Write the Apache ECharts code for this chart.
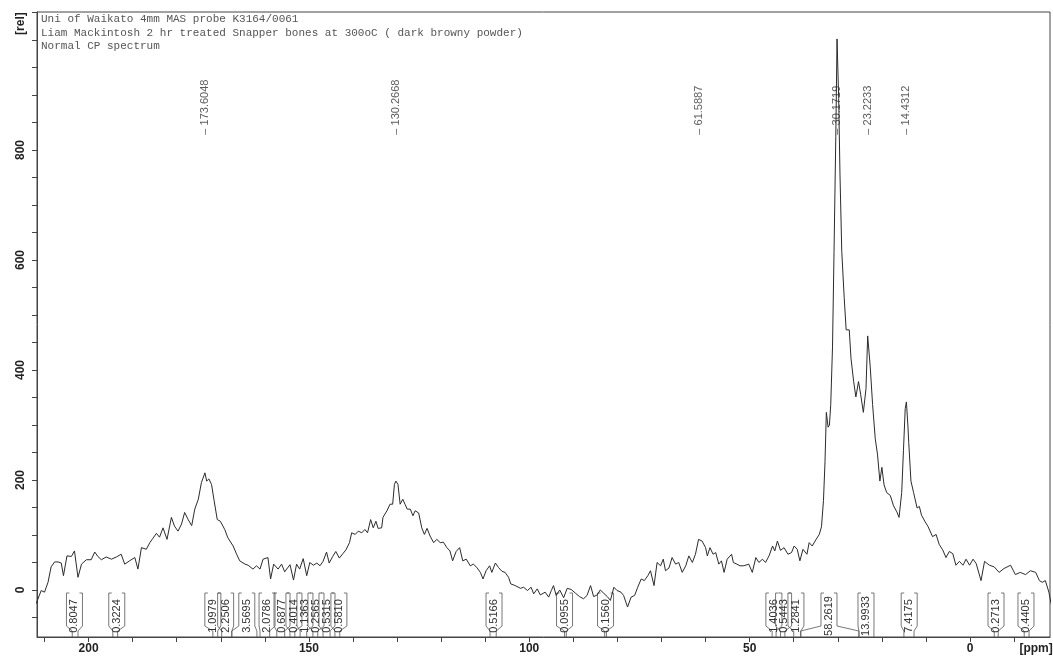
<!DOCTYPE html>
<html>
<head>
<meta charset="utf-8">
<script src="https://cdn.jsdelivr.net/npm/echarts@6/dist/echarts.min.js"></script>
<style>
  html, body { margin: 0; padding: 0; background: #fff; overflow: hidden; }
  #chart { width: 1053px; height: 659px; }
</style>
</head>
<body>
<div id="chart"></div>
<script>
// Acquisition notes printed in the upper-left corner
const titleLines = [
  'Uni of Waikato 4mm MAS probe K3164/0061',
  'Liam Mackintosh 2 hr treated Snapper bones at 300oC ( dark browny powder)',
  'Normal CP spectrum'
];

// Axis extents (ppm runs right-to-left, intensity in relative units)
const shiftRange = [-18.15, 211.7];
const intensityRange = [-85.5, 1051];
const shiftTicks = [-10, 0, 10, 20, 30, 40, 50, 60, 70, 80, 90, 100, 110, 120, 130, 140, 150, 160, 170, 180, 190, 200, 210];
const shiftTickLabels = [0, 50, 100, 150, 200];
const shiftUnitAt = -15;
const intensityTicks = [-50, 0, 50, 100, 150, 200, 250, 300, 350, 400, 450, 500, 550, 600, 650, 700, 750, 800, 850, 900, 950, 1000, 1050];
const intensityTickLabels = [0, 200, 400, 600, 800];
const intensityUnitAt = 1030;

// 13C CP-MAS spectrum: [chemical shift (ppm), intensity (rel)]
const spectrum = [
  [211.9, -25], [210.75, -1], [210.0, -4], [209.2, 14], [208.5, 42], [207.7, 51], [206.9, 51], [206.2, 49],
  [205.7, 26], [204.9, 62], [203.9, 61], [203.2, 71], [202.4, 23], [201.6, 47], [200.5, 55], [199.4, 55],
  [198.6, 69], [197.9, 61], [197.1, 55], [196.0, 60], [194.8, 56], [193.7, 60], [192.6, 65], [191.8, 47],
  [190.7, 53], [189.5, 59], [188.8, 38], [188.0, 77], [186.9, 74], [186.1, 86], [185.4, 94], [184.6, 103],
  [183.9, 96], [183.1, 113], [182.2, 92], [181.2, 132], [180.5, 116], [179.7, 107], [178.9, 120], [178.2, 141],
  [177.4, 128], [176.6, 117], [175.9, 147], [175.1, 165], [174.4, 195], [173.6, 213], [173.2, 198], [172.7, 202],
  [172.1, 192], [171.5, 162], [170.8, 128], [170.1, 125], [169.1, 110], [168.4, 95], [167.2, 80], [166.4, 65],
  [165.7, 53], [164.5, 47], [163.8, 45], [162.7, 38], [161.9, 44], [161.1, 38], [160.4, 56], [159.3, 59],
  [158.7, 20], [158.0, 47], [157.0, 38], [156.2, 47], [155.5, 33], [154.3, 46], [153.5, 18], [152.8, 47],
  [152.1, 38], [151.3, 57], [150.5, 26], [149.8, 50], [149.0, 45], [148.2, 49], [147.5, 44], [146.8, 52],
  [146.0, 69], [145.4, 49], [144.6, 61], [143.9, 70], [143.1, 58], [142.3, 66], [141.6, 73], [140.8, 86],
  [140.3, 104], [139.5, 101], [138.8, 107], [138.0, 104], [137.3, 110], [136.7, 104], [136.0, 128], [135.4, 113],
  [134.8, 125], [134.3, 112], [133.5, 113], [133.2, 132], [132.3, 144], [131.6, 156], [131.0, 156], [130.6, 192],
  [130.27, 198], [129.8, 192], [129.3, 156], [128.7, 165], [128.2, 156], [127.7, 147], [127.0, 147], [126.4, 135],
  [125.9, 144], [125.1, 140], [124.4, 113], [123.8, 101], [123.2, 112], [122.5, 98], [121.7, 86], [121.0, 92],
  [120.2, 86], [119.5, 87], [118.7, 77], [118.0, 71], [117.4, 53], [116.6, 70], [115.8, 77], [115.1, 53],
  [114.3, 56], [113.4, 44], [112.7, 47], [111.9, 41], [111.1, 32], [110.5, 20], [109.8, 35], [109.0, 44],
  [108.5, 32], [107.7, 49], [107.0, 41], [106.2, 34], [105.5, 32], [104.7, 23], [104.2, 11], [103.2, 8],
  [102.0, 3], [101.3, 5], [100.4, -1], [99.6, 5], [99.0, -7], [98.2, 2], [97.5, -9], [96.4, -4],
  [95.6, -13], [95.0, -1], [94.5, 8], [93.9, -10], [93.1, 0], [92.2, -14], [91.4, 3], [90.5, 1],
  [89.5, -6], [88.6, -12], [87.7, -16], [86.9, -10], [86.1, 8], [85.4, -12], [84.6, -9], [83.9, 0],
  [83.1, -6], [82.3, -12], [81.6, -19], [80.8, 5], [80.1, -1], [79.2, -4], [78.6, -10], [77.7, -31],
  [76.9, -13], [76.1, -10], [75.4, 5], [74.6, 20], [73.9, 17], [73.1, 26], [72.5, 35], [71.7, 8],
  [71.0, 50], [70.2, 44], [69.6, 56], [69.1, 35], [68.3, 40], [67.6, 59], [66.8, 47], [66.1, 50],
  [65.3, 32], [64.5, 44], [63.8, 62], [63.0, 50], [62.3, 65], [61.59, 92], [60.8, 89], [60.0, 77],
  [59.6, 62], [59.0, 77], [58.3, 65], [57.7, 68], [57.0, 47], [56.4, 53], [55.8, 32], [55.1, 56],
  [54.1, 65], [53.7, 50], [52.9, 47], [52.2, 44], [51.3, 44], [50.2, 47], [49.4, 32], [48.6, 59],
  [47.9, 50], [47.1, 56], [46.4, 50], [45.6, 62], [44.8, 80], [44.3, 71], [43.7, 89], [43.0, 72],
  [42.2, 77], [41.3, 65], [40.5, 68], [39.9, 80], [39.2, 74], [38.6, 53], [37.9, 74], [37.0, 65],
  [36.5, 86], [35.8, 80], [35.0, 91], [34.2, 101], [33.7, 115], [33.25, 163], [32.9, 233], [32.6, 323],
  [32.2, 296], [31.9, 300], [31.6, 337], [31.2, 442], [30.85, 616], [30.45, 825], [30.17, 1002], [29.8, 894],
  [29.5, 755], [29.1, 616], [28.55, 532], [28.1, 473], [27.4, 473], [27.0, 421], [26.4, 379], [25.9, 351],
  [25.3, 379], [24.8, 355], [24.2, 323], [23.6, 366], [23.22, 462], [22.65, 407], [22.1, 337], [21.5, 275],
  [21.0, 247], [20.45, 198], [20.0, 223], [19.5, 191], [18.9, 177], [18.1, 172], [17.35, 153], [16.6, 142],
  [16.1, 132], [15.5, 177], [15.1, 254], [14.7, 330], [14.43, 342], [14.1, 300], [13.9, 268], [13.4, 198],
  [12.8, 177], [12.0, 149], [11.5, 152], [11.0, 136], [10.25, 125], [9.5, 115], [8.5, 97], [7.7, 101],
  [7.0, 83], [6.2, 73], [5.45, 59], [4.7, 70], [3.9, 66], [3.2, 45], [2.4, 52], [1.6, 45],
  [0.9, 56], [0.1, 45], [-0.7, 56], [-1.4, 48], [-2.5, 17], [-3.3, 52], [-4.4, 45], [-5.5, 42],
  [-6.6, 32], [-7.7, 39], [-9.2, 45], [-10.3, 28], [-11.4, 32], [-12.6, 28], [-13.7, 35], [-14.9, 32],
  [-15.75, 17], [-16.4, 14], [-17.1, 17], [-17.9, -4], [-18.4, -25]
];

// Picked peaks (ppm)
const peakShifts = [173.6048, 130.2668, 61.5887, 30.1719, 23.2233, 14.4312];

// Integration regions: [start ppm, end ppm], where each value box sits, and the integral values
const integralRegions = [
  [203.7, 202.4], [194.5, 193.4], [171.8, 170.7], [169.8, 167.5], [167.5, 161.8], [161.1, 158.9],
  [157.3, 155.5], [154.3, 153.2], [152.0, 150.5], [149.1, 148.0], [146.8, 145.2], [144.1, 143.0],
  [108.9, 107.5], [92.0, 91.6], [82.9, 82.5], [44.9, 44.0], [43.0, 42.0], [40.0, 38.4],
  [38.4, 25.2], [25.2, 21.8], [15.0, 12.7], [-5.5, -6.4], [-12.3, -13.4]
];
const integralLabelShifts = [
  203.2, 193.6, 171.8, 168.9, 164.1, 159.5, 156.1, 153.4, 150.9, 148.4, 145.9, 143.2,
  108.0, 92.0, 82.7, 44.5, 42.3, 39.5, 32.0, 23.6, 13.8, -5.9, -12.7
];
const integralValues = [
  '0.8047', '0.3224', '1.0979', '2.2506', '3.5695', '2.0786', '0.6877', '0.4014', '1.1363', '0.2565', '0.5315', '0.5810',
  '0.5166', '0.0955', '0.1560', '1.4036', '0.5443', '1.2841', '58.2619', '13.9933', '7.4175', '0.2713', '0.4405'
];

const peakLabelBase = 828;

const chart = echarts.init(document.getElementById('chart'), null, { renderer: 'canvas', width: 1053, height: 659 });

function renderIntegral(params, api) {
  const i = params.dataIndex;
  const xa = api.coord([api.value(0), 0])[0];
  const xb = api.coord([api.value(1), 0])[0];
  const xc = api.coord([api.value(2), 0])[0];
  const axisY = api.coord([0, intensityRange[0]])[1];
  const sL = Math.min(xa, xb), sR = Math.max(xa, xb);
  const half = 8, top = axisY - 44, shoulder = axisY - 11, neck = axisY - 6;
  const line = { stroke: '#555', lineWidth: 0.8, fill: null };
  return {
    type: 'group',
    children: [
      { type: 'polyline', shape: { points: [[xc - half + 3, top], [xc - half, top], [xc - half, shoulder], [sL, neck], [sL, axisY]] }, style: line },
      { type: 'polyline', shape: { points: [[xc + half - 3, top], [xc + half, top], [xc + half, shoulder], [sR, neck], [sR, axisY]] }, style: line },
      { type: 'text', x: xc, y: (top + axisY) / 2 + 1, rotation: Math.PI / 2,
        style: { text: integralValues[i], font: '11px Arial, "Liberation Sans", sans-serif', fill: '#333', align: 'center', verticalAlign: 'middle' } }
    ]
  };
}

const option = {
  animation: false,
  backgroundColor: '#fff',
  grid: {
    left: 37, right: 3, top: 12, bottom: 22, containLabel: false, outerBoundsMode: 'none',
    show: true, borderColor: '#444', borderWidth: 1, backgroundColor: 'transparent'
  },
  xAxis: {
    type: 'value', inverse: true, min: shiftRange[0], max: shiftRange[1],
    axisLine: { show: true, onZero: false, lineStyle: { color: '#444', width: 1 } },
    axisTick: { show: true, length: 5, customValues: shiftTicks, lineStyle: { color: '#444' } },
    axisLabel: {
      customValues: shiftTickLabels.concat([shiftUnitAt]), margin: 6,
      formatter: v => (v === shiftUnitAt ? '[ppm]' : String(v)),
      color: '#222', fontSize: 12, fontWeight: 'bold', fontFamily: 'Arial, "Liberation Sans", sans-serif'
    },
    splitLine: { show: false }
  },
  yAxis: {
    type: 'value', min: intensityRange[0], max: intensityRange[1],
    axisLine: { show: true, onZero: false, lineStyle: { color: '#444', width: 1 } },
    axisTick: { show: true, length: 5, customValues: intensityTicks, lineStyle: { color: '#444' } },
    axisLabel: {
      customValues: intensityTickLabels.concat([intensityUnitAt]), rotate: 90, margin: 10,
      formatter: v => (v === intensityUnitAt ? '[rel]' : String(v)),
      color: '#222', fontSize: 12, fontWeight: 'bold', fontFamily: 'Arial, "Liberation Sans", sans-serif'
    },
    splitLine: { show: false }
  },
  graphic: titleLines.map((t, k) => ({
    type: 'text', left: 41, top: 14 + k * 13.5,
    style: { text: t, font: '11px "Liberation Mono", "DejaVu Sans Mono", monospace', fill: '#555' }
  })),
  series: [
    {
      type: 'line', data: spectrum, showSymbol: false, symbol: 'none',
      lineStyle: { color: '#2b2b2b', width: 1 }, silent: true, z: 3
    },
    {
      type: 'scatter', symbolSize: 0, silent: true, z: 2,
      data: peakShifts.map(p => [p, peakLabelBase]),
      label: {
        show: true, position: 'inside', rotate: 90, align: 'left', verticalAlign: 'middle',
        formatter: p => '\u2013 ' + peakShifts[p.dataIndex].toFixed(4),
        color: '#333', fontSize: 11, fontFamily: 'Arial, "Liberation Sans", sans-serif'
      }
    },
    {
      type: 'custom', clip: false, silent: true, z: 2,
      data: integralRegions.map((r, k) => [r[0], r[1], integralLabelShifts[k]]),
      renderItem: renderIntegral
    }
  ]
};

chart.setOption(option);
</script>
</body>
</html>
